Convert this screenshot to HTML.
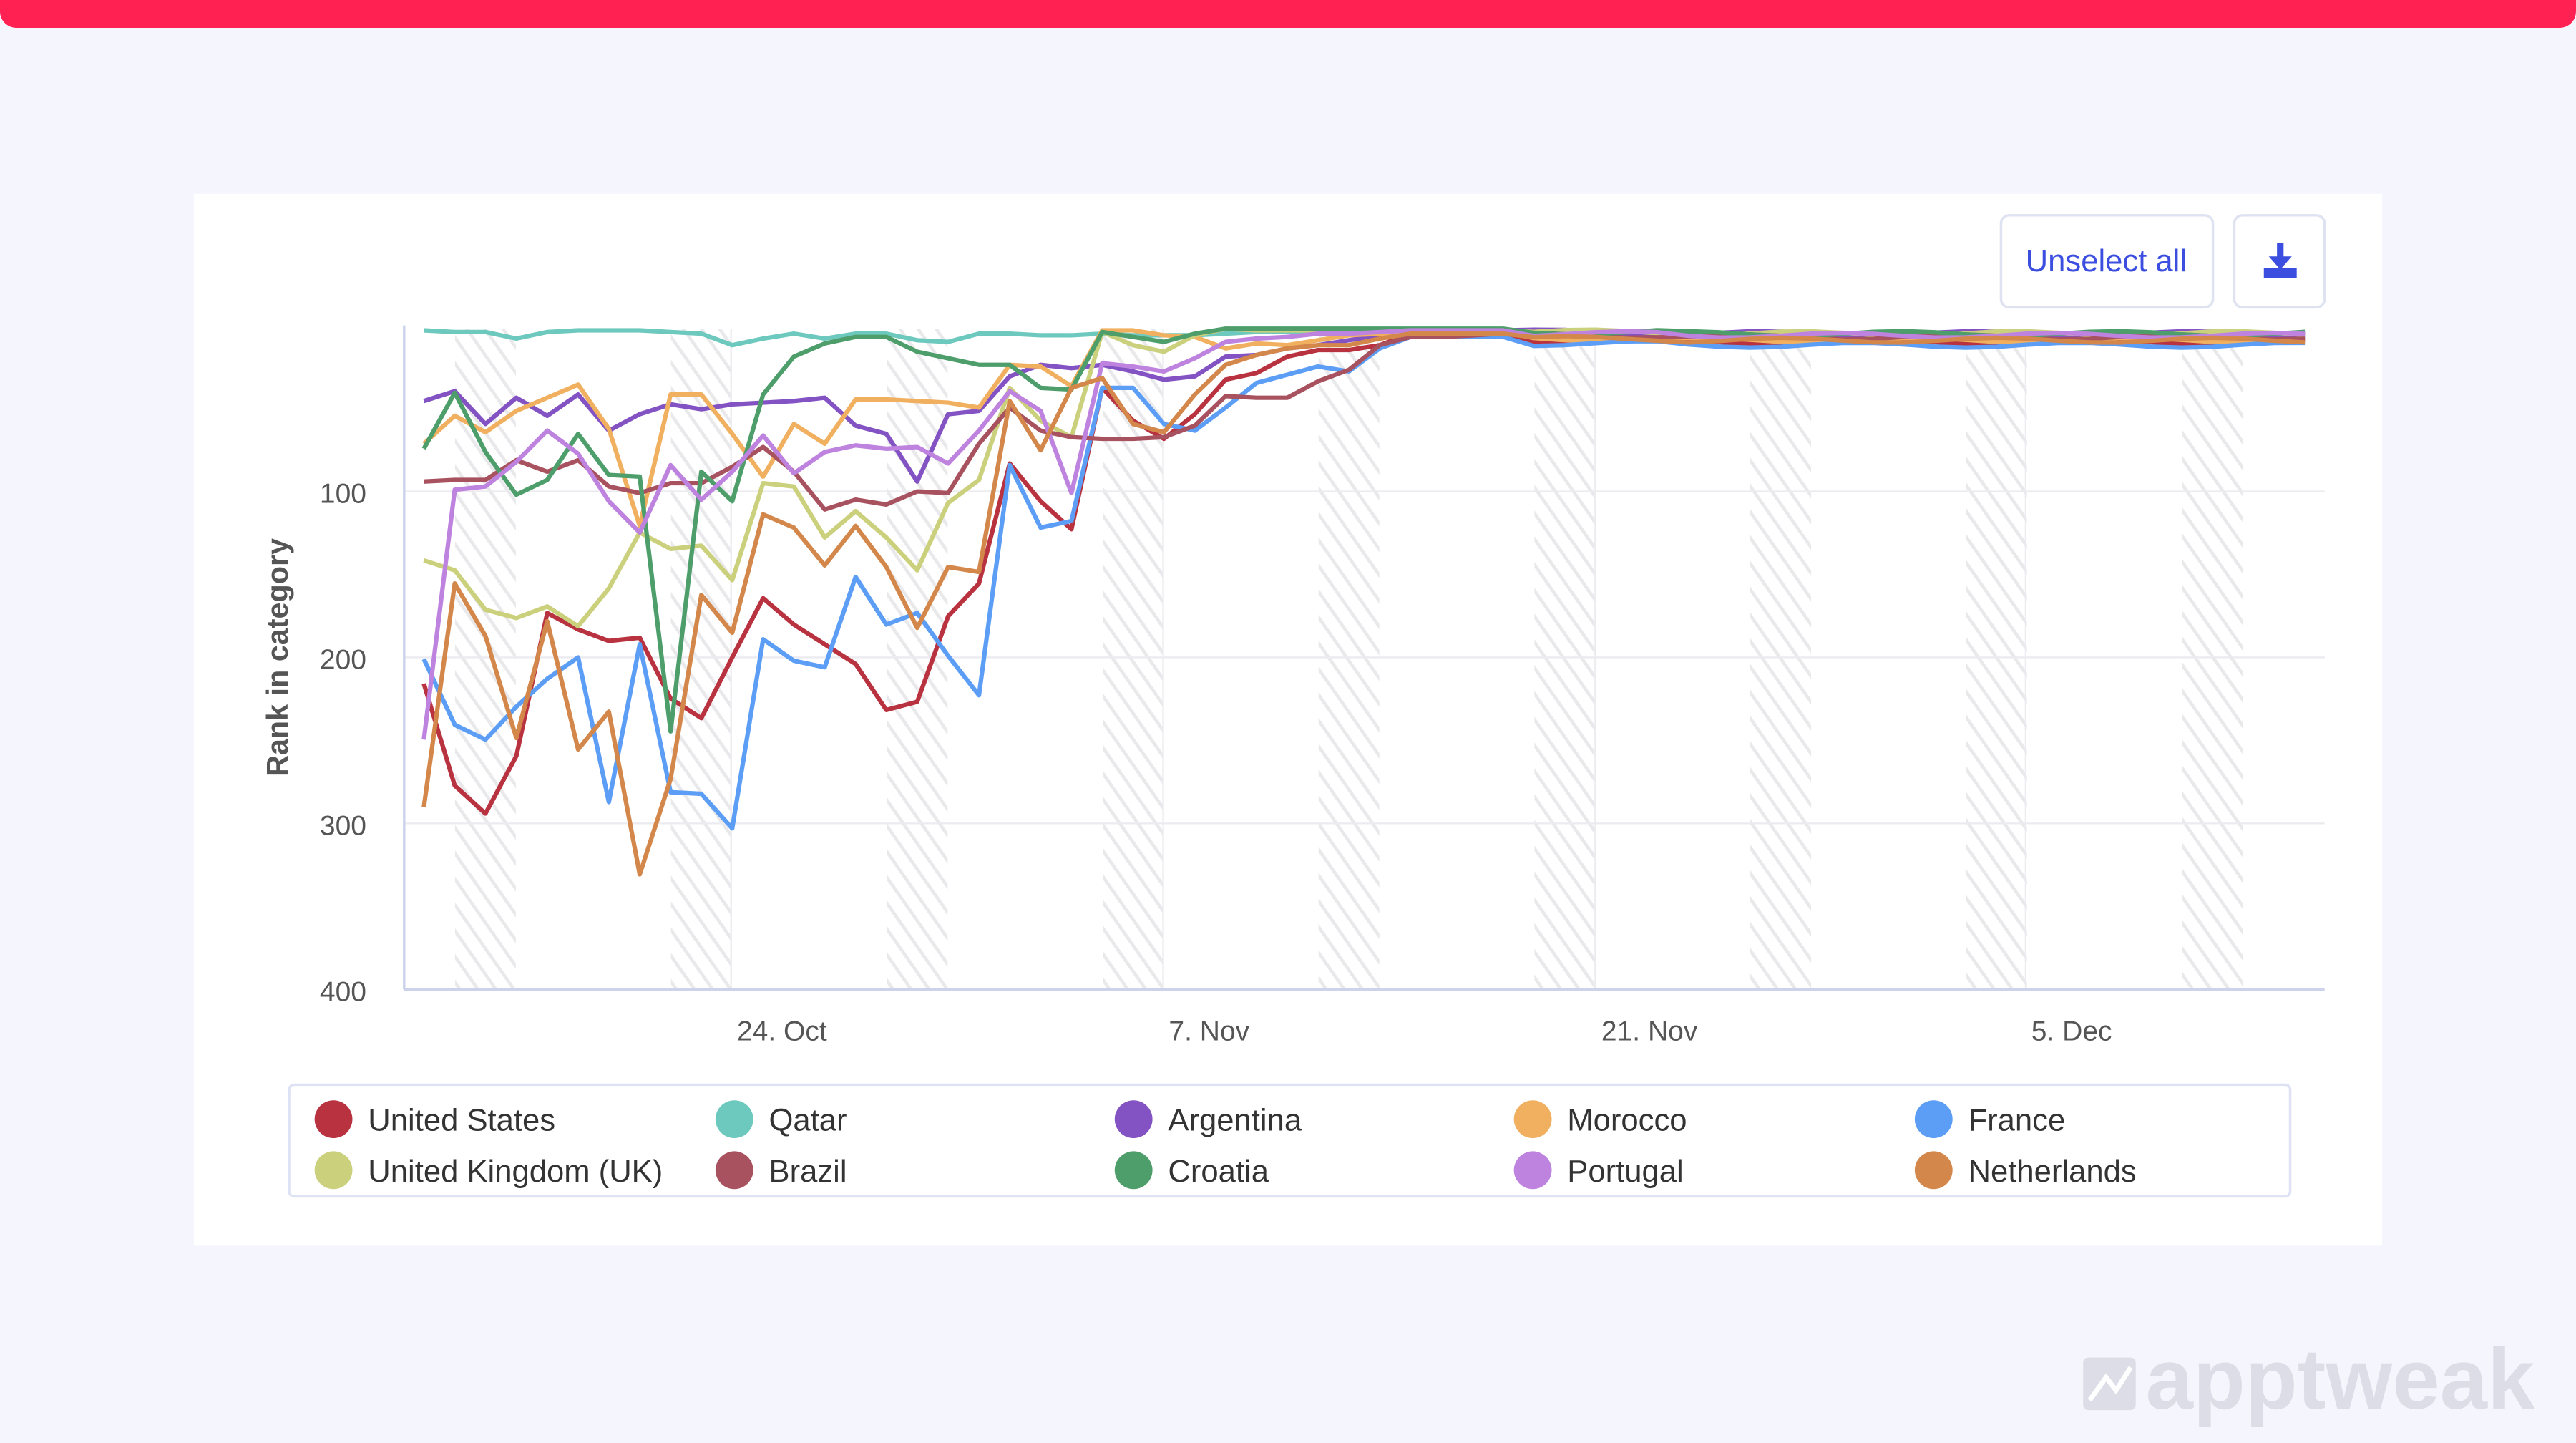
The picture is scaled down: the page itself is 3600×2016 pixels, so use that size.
<!DOCTYPE html>
<html><head><meta charset="utf-8"><style>
html,body{margin:0;padding:0;background:#f5f6fd;}
svg{display:block;}
text{font-family:"Liberation Sans",sans-serif;}
</style></head><body>
<svg id="s" width="3600" height="2016" viewBox="0 0 1568 878" preserveAspectRatio="none" xmlns="http://www.w3.org/2000/svg">
<defs>
<pattern id="h" patternUnits="userSpaceOnUse" width="9" height="9" patternTransform="rotate(-35)">
<rect width="9" height="9" fill="#fff"/>
<line x1="0" y1="0" x2="0" y2="9" stroke="#e9e9ec" stroke-width="4"/>
</pattern>
</defs>
<rect width="1568" height="878" fill="#f5f6fd"/>
<rect x="0" y="-10" width="1568" height="27" rx="10" fill="#ff2152"/>
<rect x="118" y="118" width="1332" height="640" fill="#fff"/>
<g id="bands"></g>
<g stroke="#ececf0" stroke-width="1">
<line x1="246" y1="299" x2="1415" y2="299"/><line x1="246" y1="400" x2="1415" y2="400"/><line x1="246" y1="501" x2="1415" y2="501"/>
<line x1="445" y1="200" x2="445" y2="602"/><line x1="708" y1="200" x2="708" y2="602"/><line x1="971" y1="200" x2="971" y2="602"/><line x1="1233" y1="200" x2="1233" y2="602"/>
</g>
<line x1="246" y1="198" x2="246" y2="602" stroke="#ccd3ea" stroke-width="1.5"/>
<line x1="246" y1="602" x2="1415" y2="602" stroke="#ccd3ea" stroke-width="1.5"/>
<g font-size="17" fill="#555" text-anchor="end">
<text x="223" y="306">100</text><text x="223" y="407">200</text><text x="223" y="508">300</text><text x="223" y="609">400</text>
</g>
<text transform="translate(175,400) rotate(-90)" text-anchor="middle" font-size="18" font-weight="bold" fill="#555">Rank in category</text>
<g font-size="17" fill="#555" text-anchor="middle">
<text x="476" y="633">24. Oct</text><text x="736" y="633">7. Nov</text><text x="1004" y="633">21. Nov</text><text x="1261" y="633">5. Dec</text>
</g>
<g id="lines" fill="none" stroke-width="2.7" stroke-linejoin="round"></g>
<rect x="1218" y="131" width="129" height="56" rx="5" fill="#fff" stroke="#dfe2f0" stroke-width="1.5"/>
<text x="1282" y="165" text-anchor="middle" font-size="19" fill="#3b4ee0">Unselect all</text>
<rect x="1360" y="131" width="55" height="56" rx="5" fill="#fff" stroke="#dfe2f0" stroke-width="1.5"/>
<g fill="#3b4ee0"><rect x="1386" y="148" width="4" height="10"/><polygon points="1381,156 1395,156 1388,164"/><rect x="1378" y="163" width="20" height="6"/></g>
<rect x="176" y="660" width="1218" height="68" rx="3" fill="#fff" stroke="#dfe2f5" stroke-width="1.5"/>
<g id="leg" font-size="19" fill="#333"></g>
<text x="1306" y="857" font-size="52" font-weight="bold" fill="#dcdde6" font-family="Liberation Serif,serif">apptweak</text>
<rect x="1268" y="826" width="32" height="32" rx="3" fill="#dcdde6"/>
<polyline points="1272,852 1282,838 1288,846 1297,832" fill="none" stroke="#fff" stroke-width="3"/>
</svg>
<script>
var NS="http://www.w3.org/2000/svg",s=document.getElementById('s');
function el(t,a,p){var e=document.createElementNS(NS,t);for(var k in a)e.setAttribute(k,a[k]);p.appendChild(e);return e;}
var b=document.getElementById('bands');
for(var i=0;i<9;i++){var x=277+i*131.4;el('rect',{x:x,y:200,width:37,height:402,fill:'url(#h)'},b);}
var X=function(i){return 258+i*18.77;};
var S=[
["#b8323f",[416,478,495,460,373,383,390,388,425,437,400,364,380,392,404,432,427,375,355,282,305,322,236,256,267,252,231,227,217,213,213,210,203],207,"United States"],
["#6dc9be",[201,202,202,206,202,201,201,201,202,203,210,206,203,206,203,203,207,208,203,203,204,204,203,204,204,204,203,202,202,202,202,202,202],203,"Qatar"],
["#8352c3",[244,238,258,242,253,240,262,252,246,249,246,245,244,242,259,264,293,252,250,229,222,224,222,226,231,229,217,216,212,210,207,204,201],202,"Argentina"],
["#f0b060",[270,253,263,250,242,234,261,320,240,240,264,290,258,270,243,243,244,245,248,222,223,235,201,201,204,205,212,209,210,207,204,203,202],206,"Morocco"],
["#5c9df5",[401,441,450,430,413,400,488,392,482,483,504,389,402,406,351,380,373,399,423,283,321,317,236,236,258,262,248,233,228,223,226,212,205],209,"France"],
["#cbd07c",[341,347,371,376,369,381,358,324,334,332,353,294,296,327,311,327,347,306,292,236,256,266,202,210,214,204,200,201,201,201,201,201,201],202,"United Kingdom (UK)"],
["#a8525f",[293,292,292,280,287,280,296,300,294,294,284,272,287,310,304,307,299,300,270,248,262,266,267,267,266,259,241,242,242,232,225,210,205],204,"Brazil"],
["#4d9e6b",[273,239,275,301,292,264,289,290,445,287,305,240,217,209,205,205,214,218,222,222,236,237,202,205,208,203,200,200,200,200,200,200,200],202,"Croatia"],
["#be82df",[450,298,296,281,262,276,305,324,283,304,287,265,288,275,271,273,272,282,262,238,250,300,221,223,226,218,208,206,205,203,203,202,201],203,"Portugal"],
["#d4874a",[491,355,387,449,378,456,433,532,474,362,385,313,321,344,320,345,382,345,348,244,274,236,230,258,263,240,222,216,212,210,210,206,203],206,"Netherlands"]
];
var g=document.getElementById('lines');
S.forEach(function(sr,k){var d=sr[1].slice();
for(var i=d.length;i<62;i++){var v=sr[2]+Math.sin(i*0.9+k*1.7)*1.5+(i>40?1:0);if(i<36)v=Math.min(v,d[d.length-1]);d.push(Math.max(200,v));}
var p=d.map(function(y,i){return (i?'L':'M')+X(i).toFixed(1)+' '+y.toFixed(1);}).join('');
el('path',{d:p,stroke:sr[0]},g);});
var cols=[203,447,690,933,1177];
var L=document.getElementById('leg');
var lay=[[0,0,0],[1,1,0],[2,2,0],[3,3,0],[4,4,0],[5,0,1],[6,1,1],[7,2,1],[8,3,1],[9,4,1]];
lay.forEach(function(a){var sr=S[a[0]],cx=cols[a[1]],cy=a[2]?712:681;
el('circle',{cx:cx,cy:cy,r:11.5,fill:sr[0]},L);
var t=el('text',{x:cx+21,y:cy+7},L);t.textContent=sr[3];});
</script>
</body></html>
